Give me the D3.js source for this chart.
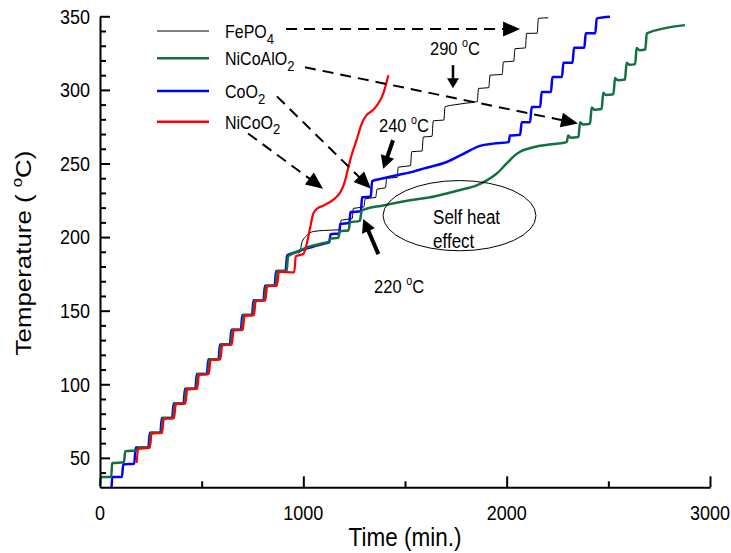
<!DOCTYPE html>
<html><head><meta charset="utf-8">
<script src="https://cdn.jsdelivr.net/npm/d3@7"></script>
<style>body{margin:0;background:#fff;} svg{display:block;font-family:"Liberation Sans",Arial,Helvetica,sans-serif;}</style>
</head><body><svg id="c" width="731" height="553"></svg>
<script>
// ---------- DATA ----------
const seriesNames = ["FePO4", "NiCoAlO2", "CoO2", "NiCoO2"];
const seriesColors = ["#000000", "#137040", "#0000ff", "#ff0000"];

// [time (min), temperature (°C)]
const fePO4 = [[975,188.8],[984,190],[992,196],[1016,201],[1050,203.8],[1100,204.5],[1180,205],[1186,211.5],[1240,212.5],[1246,219.5],[1298,220.5],[1304,226],[1356,227],[1362,232.5],[1404,233.5],[1410,240],[1461,240.5],[1467,247.5],[1527,248.5],[1533,258],[1584,258.5],[1590,268],[1633,268.5],[1639,279],[1691,279.5],[1697,288.5],[1750,290],[1800,291],[1855,292],[1862,301],[1912,301.5],[1918,310],[1978,310.5],[1984,319],[2035,319.5],[2041,328],[2092,328.5],[2098,338.4],[2150,338.5],[2156,348.6],[2205,349]];

const niCoAlO2 = [[0,31],[3,37],[55,37],[60,46.5],[118,47],[124,54.5],[185,55],[190,57],[243,57],[250,67],[302,67],[309,77],[360,77],[367,87],[416,87],[423,97],[474,97],[481,107],[531,107],[538,117],[588,117],[595,127],[644,127],[651,137],[698,137],[705,147],[753,147],[760,157],[809,157],[816,167],[864,167],[871,177],[918,177],[925,187],[951,189],[1000,192],[1040,194],[1100,196],[1126,197],[1132,199],[1172,199.5],[1180,204],[1222,204.5],[1230,210],[1278,211],[1287,218],[1393,221.5],[1525,225],[1623,227],[1700,229.5],[1771,232],[1850,235],[1902,238.5],[1950,243],[2000,250],[2040,255.5],[2066,258],[2131,261],[2220,263],[2295,264.5],[2303,269],[2315,267.5],[2353,268],[2361,278],[2375,276.5],[2410,277],[2418,288],[2432,286.5],[2467,287],[2475,298],[2489,296.5],[2525,297],[2533,308],[2547,306.5],[2582,307],[2590,318.5],[2604,317],[2632,317.5],[2639,328.5],[2653,327],[2682,327.5],[2689,338.4],[2877,344]];

const coO2 = [[57,30],[60,37],[108,37],[114,45.5],[168,46],[176,57],[238,57],[245,67],[297,67],[304,77],[355,77],[362,87],[411,87],[418,97],[469,97],[476,107],[526,107],[533,117],[583,117],[590,127],[639,127],[646,137],[693,137],[700,147],[748,147],[755,157],[804,157],[811,167],[859,167],[866,177],[913,177],[920,187.5],[960,189.5],[1000,191.5],[1050,193.5],[1100,195.5],[1128,196.5],[1134,202],[1176,202.5],[1182,209],[1226,209.5],[1232,217],[1283,217.5],[1289,227],[1332,227.5],[1338,238],[1377,239.5],[1459,242],[1541,244.5],[1590,246.5],[1705,251],[1787,256.6],[1869,262],[1934,263.5],[2010,264.5],[2016,269],[2066,269.5],[2074,278],[2115,278],[2123,288.4],[2165,288.5],[2172,298.6],[2218,298.6],[2225,308.8],[2272,308.8],[2279,318.4],[2324,318.5],[2331,328.6],[2382,328.6],[2389,338.4],[2436,338.5],[2443,348.6],[2508,349.7]];

const niCoO2 = [[180,46.5],[188,56],[245,57],[254,66.5],[305,67],[314,76.5],[364,77],[373,86.5],[420,87],[429,96.5],[478,97],[487,106.5],[535,107],[544,116.5],[592,117],[601,126.5],[648,127],[657,136.5],[702,137],[711,146.5],[757,147],[766,156.5],[813,157],[822,166.5],[870,167],[880,176.5],[955,176],[963,187],[1000,188.5],[1016,195],[1033,206],[1049,216],[1070,219.5],[1100,221.5],[1148,225.5],[1180,230],[1200,236],[1221,247],[1238,256],[1262,266],[1287,277],[1312,283],[1340,286],[1365,290],[1393,297.5],[1418,310]];

const xTickValues = [0, 1000, 2000, 3000];
const xTickLabels = ["0", "1000", "2000", "3000"];
const xMinorTicks = [500, 1500, 2500];
const yTickValues = [50, 100, 150, 200, 250, 300, 350];
const yTickLabels = ["50", "100", "150", "200", "250", "300", "350"];
const yMinorTicks = [40,60,70,80,90,110,120,130,140,160,170,180,190,210,220,230,240,260,270,280,290,310,320,330,340];

// annotations (data coordinates)
const dashedArrows = [[915,341.3,2066,341.3],[1008,315.4,2351,277.2],[870,295.6,1333,232.9],[728,270.4,1097,232.9]];
const solidArrows = [[1736,316.8,1736,301.1],[1441,265.8,1393,246.4],[1369,188.4,1295,212.3]];
const tempLabels = [["290",1623,323.6],["240",1372,271.3],["220",1348,162.2]];
const selfHeatLines = [["Self heat",1638,208.9],["effect",1638,192.9]];
const ellipseBox = [1392, 2144, 190.7, 238.4];

// ---------- CHART ----------
const SY = 1.15;
const svg = d3.select("#c");
const x = d3.scaleLinear().domain([0, 3000]).range([100, 710]);
const y = d3.scaleLinear().domain([30, 350]).range([487.3, 16.3]);

function addText(px, py, parts, size, anchor, rot) {
  const t = svg.append("text")
    .attr("transform", rot ? `translate(${px},${py}) rotate(-90) scale(${SY},1)` : `translate(${px},${py}) scale(1,${SY})`)
    .attr("font-size", size).attr("text-anchor", anchor || "start").attr("fill", "#000");
  parts.forEach(p => {
    const ts = t.append("tspan").text(p.t);
    if (p.sub) ts.attr("font-size", size * 0.82).attr("dy", size * 0.3);
    else if (p.sup) ts.attr("font-size", size * 0.65).attr("dy", -size * 0.42);
    if (p.back) ts.attr("dy", p.back * size);
  });
  return t;
}

// series
const line = d3.line().x(d => x(d[0])).y(d => y(d[1])).curve(d3.curveMonotoneX);
const order = [[fePO4,0,1],[coO2,2,2.5],[niCoAlO2,1,2.5],[niCoO2,3,2.2]];
order.forEach(([data, ci, w]) => {
  svg.append("path").datum(data).attr("d", line).attr("fill", "none")
    .attr("stroke", seriesColors[ci]).attr("stroke-width", w).attr("stroke-linejoin", "round");
});

// axes
const yAxis = d3.axisLeft(y).tickValues(yTickValues).tickSize(-10).tickSizeOuter(0).tickFormat("");
const gy = svg.append("g").attr("transform", `translate(${x(0)},0)`).call(yAxis);
const yAxisMinor = d3.axisLeft(y).tickValues(yMinorTicks).tickSize(-6).tickSizeOuter(0).tickFormat("");
const gym = svg.append("g").attr("transform", `translate(${x(0)},0)`).call(yAxisMinor);
gym.select(".domain").remove();
const xAxis = d3.axisBottom(x).tickValues(xTickValues.slice(1)).tickSize(-11).tickSizeOuter(0).tickFormat("");
const gx = svg.append("g").attr("transform", `translate(0,${y(30)})`).call(xAxis);
const xAxisMinor = d3.axisBottom(x).tickValues(xMinorTicks).tickSize(-6).tickSizeOuter(0).tickFormat("");
const gxm = svg.append("g").attr("transform", `translate(0,${y(30)})`).call(xAxisMinor);
gxm.select(".domain").remove();
[gy, gym, gx, gxm].forEach(g => {
  g.selectAll("line").attr("stroke", "#000").attr("stroke-width", 2);
  g.select(".domain").attr("stroke", "#000").attr("stroke-width", 2);
});

yTickValues.forEach((v, i) => addText(90, y(v) + 7.4, [{t: yTickLabels[i]}], 18, "end"));
xTickValues.forEach((v, i) => addText(x(v), 520, [{t: xTickLabels[i]}], 18, "middle"));

addText(405, 546, [{t: "Time (min.)"}], 22.5, "middle");
addText(31, 253, [{t: "Temperature ( "}, {t: "o", sup: true}, {t: "C)", back: 0.42}], 22.5, "middle", true);

// legend
const legY = [31, 58.3, 91, 121.7];
const legLabels = [[{t:"FePO"},{t:"4",sub:true}],[{t:"NiCoAlO"},{t:"2",sub:true}],[{t:"CoO"},{t:"2",sub:true}],[{t:"NiCoO"},{t:"2",sub:true}]];
const legW = [1, 2.5, 2.5, 2.5];
seriesNames.forEach((n, i) => {
  svg.append("line").attr("x1", 157).attr("x2", 209).attr("y1", legY[i]).attr("y2", legY[i])
    .attr("stroke", seriesColors[i]).attr("stroke-width", legW[i]);
  addText(225, legY[i] + 7, legLabels[i], 16, "start");
});

// arrows
function arrow(a, dashed, lw, hl, hw) {
  const x1 = x(a[0]), y1 = y(a[1]), x2 = x(a[2]), y2 = y(a[3]);
  const dx = x2 - x1, dy = y2 - y1, L = Math.hypot(dx, dy), ux = dx / L, uy = dy / L;
  const bx = x2 - ux * hl, by = y2 - uy * hl;
  svg.append("line").attr("x1", x1).attr("y1", y1).attr("x2", bx + ux).attr("y2", by + uy)
    .attr("stroke", "#000").attr("stroke-width", lw).attr("stroke-dasharray", dashed ? "11,7" : null);
  const px = -uy, py = ux;
  svg.append("path").attr("d", `M${x2},${y2}L${bx + px * hw / 2},${by + py * hw / 2}L${bx - px * hw / 2},${by - py * hw / 2}Z`)
    .attr("fill", "#000");
}
dashedArrows.forEach(a => arrow(a, true, 2, 17, 15));
solidArrows.forEach((a, i) => arrow(a, false, i === 0 ? 2.5 : 4, i === 0 ? 10 : 13, i === 0 ? 12 : 14));

tempLabels.forEach(d => addText(x(d[1]), y(d[2]), [{t: d[0] + " "}, {t: "o", sup: true}, {t: "C", back: 0.42}], 16.5, "start"));

// self heat ellipse
const ex0 = x(ellipseBox[0]), ex1 = x(ellipseBox[1]), ey0 = y(ellipseBox[3]), ey1 = y(ellipseBox[2]);
svg.append("ellipse").attr("cx", (ex0 + ex1) / 2).attr("cy", (ey0 + ey1) / 2)
  .attr("rx", (ex1 - ex0) / 2).attr("ry", (ey1 - ey0) / 2)
  .attr("fill", "none").attr("stroke", "#000").attr("stroke-width", 1);
selfHeatLines.forEach(d => addText(x(d[1]), y(d[2]), [{t: d[0]}], 17, "start"));
</script></body></html>
